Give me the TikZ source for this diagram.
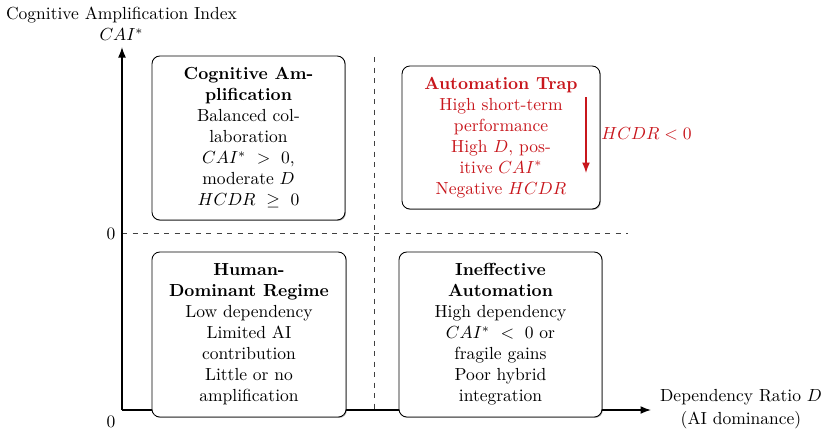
\documentclass[tikz,border=0pt]{standalone}
\usetikzlibrary{arrows.meta,shadows}
\definecolor{trapred}{RGB}{200,22,28}
\begin{document}
\begin{tikzpicture}[x=0.5714pt,y=-0.5714pt,
  quad/.style={draw=black, fill=white, line width=0.5pt, rounded corners=4.5pt, align=center, inner sep=2pt,
    drop shadow={shadow xshift=0.5pt, shadow yshift=-0.5pt, opacity=0.35, fill=black}},
  axis/.style={line width=0.8pt, -{Latex[length=6pt,width=4.5pt]}},
  guide/.style={dashed, black!75, line width=0.45pt},
  lbl/.style={align=center, inner sep=0pt}]
\useasboundingbox (0,0) rectangle (829,436);
% coordinates
\coordinate (O) at (122,410);
\coordinate (Ytop) at (122,47);
\coordinate (Xend) at (651,410);
\coordinate (Hl) at (122,233);
\coordinate (Hr) at (628,233);
\coordinate (Vt) at (374,57);
\coordinate (Vb) at (374,410);
% guides
\draw[guide] (Hl) -- (Hr);
\draw[guide] (Vt) -- (Vb);
% axes
\draw[axis] (O) -- (Ytop);
\draw[axis] (O) -- (Xend);
% axis labels
\node[lbl] (ylab) at (121.5,24) {Cognitive Amplification Index\\$CAI^{*}$};
\node[lbl] (xlab) at (741,409) {Dependency Ratio $D$\\[1pt](AI dominance)};
\node[lbl] (zero1) at (111,234) {0};
\node[lbl] (zero2) at (111,422) {0};
% boxes
\node[quad, minimum width=110.3pt, minimum height=93.7pt] (amp) at (248.5,138)
  {\textbf{Cognitive Am-}\\\textbf{plification}\\Balanced col-\\laboration\\$CAI^{*}\ >\ 0$,\\moderate $D$\\$HCDR\ \geq\ 0$};
\node[quad, minimum width=113.1pt, minimum height=81.7pt, text=trapred] (trap) at (501,137.5)
  {\textbf{Automation Trap}\\High short-term\\performance\\High $D$, pos-\\itive $CAI^{*}$\\Negative $HCDR$};
\node[quad, minimum width=110.9pt, minimum height=94.3pt] (human) at (249,334.5)
  {\textbf{Human-}\\\textbf{Dominant Regime}\\Low dependency\\Limited AI\\contribution\\Little or no\\amplification};
\node[quad, minimum width=116pt, minimum height=94.3pt] (ineff) at (500.5,334.5)
  {\textbf{Ineffective}\\\textbf{Automation}\\High dependency\\$CAI^{*}\ <\ 0$ or\\fragile gains\\Poor hybrid\\integration};
% red trend arrow
\coordinate (Rt) at (586,97);
\coordinate (Rb) at (586,173);
\draw[trapred, line width=0.7pt, -{Latex[length=6pt,width=4.5pt]}] (Rt) -- (Rb);
\node[lbl, text=trapred, anchor=west] (hcdr) at (601,134) {$HCDR < 0$};
\end{tikzpicture}
\end{document}
